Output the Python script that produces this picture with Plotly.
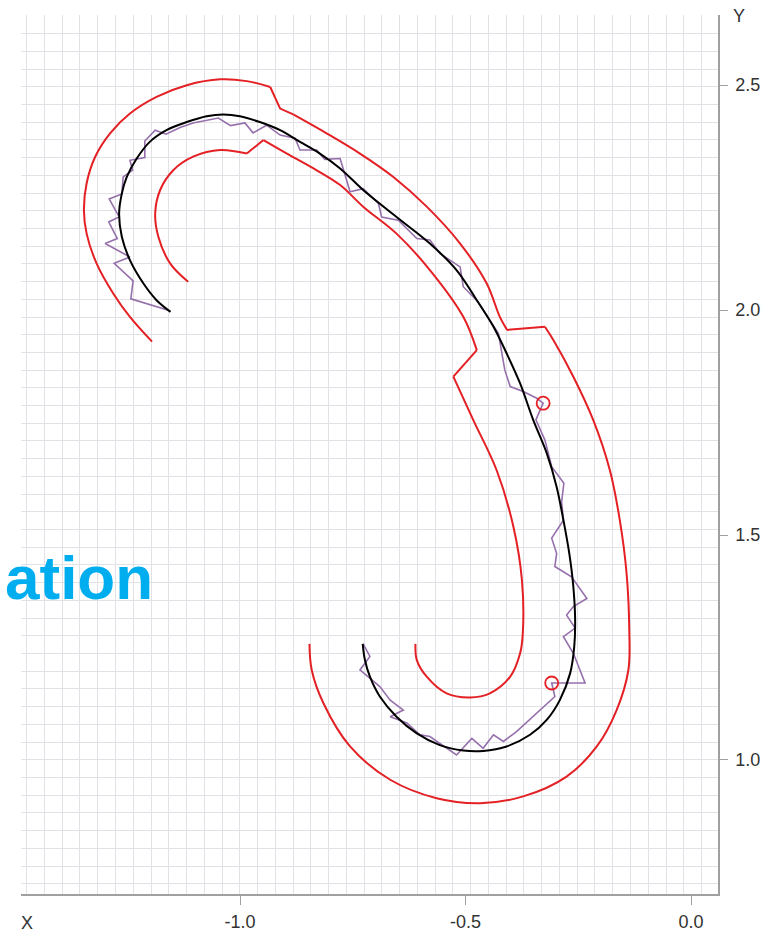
import plotly.graph_objects as go

# ---- curve data (x, y in axis units) ----
centre_x = [-1.154, -1.185, -1.214, -1.244, -1.262, -1.268, -1.262, -1.251, -1.229, -1.200,
            -1.163, -1.118, -1.074, -1.037, -1.000, -0.956, -0.911, -0.867, -0.823, -0.778,
            -0.727, -0.653, -0.579, -0.520, -0.475, -0.438, -0.409, -0.379, -0.350, -0.320,
            -0.298, -0.283, -0.270, -0.261, -0.257, -0.259, -0.268, -0.291, -0.320, -0.357,
            -0.409, -0.461, -0.505, -0.557, -0.608, -0.653, -0.690, -0.712, -0.723, -0.728]
centre_y = [1.996, 2.022, 2.059, 2.111, 2.163, 2.215, 2.259, 2.296, 2.337, 2.374,
            2.400, 2.418, 2.431, 2.435, 2.431, 2.418, 2.400, 2.374, 2.348, 2.315,
            2.267, 2.207, 2.148, 2.089, 2.022, 1.963, 1.904, 1.837, 1.756, 1.682,
            1.607, 1.533, 1.459, 1.385, 1.311, 1.252, 1.193, 1.133, 1.089, 1.056,
            1.030, 1.020, 1.021, 1.033, 1.059, 1.096, 1.141, 1.185, 1.222, 1.258]

# outer offset boundary, in pieces split at its corners
outer_a_x = [-1.195, -1.244, -1.281, -1.318, -1.340, -1.346, -1.340, -1.321, -1.288, -1.244,
             -1.185, -1.118, -1.044, -0.985, -0.933]
outer_a_y = [1.930, 1.985, 2.037, 2.104, 2.170, 2.222, 2.282, 2.341, 2.393, 2.437,
             2.474, 2.500, 2.513, 2.509, 2.496]
outer_b_x = [-0.933, -0.911, -0.882]
outer_b_y = [2.496, 2.448, 2.435]
outer_c_x = [-0.882, -0.808, -0.734, -0.660, -0.586, -0.512, -0.453, -0.424, -0.408]
outer_c_y = [2.435, 2.393, 2.348, 2.296, 2.230, 2.148, 2.059, 1.985, 1.956]
outer_d_x = [-0.408, -0.324]
outer_d_y = [1.956, 1.963]
outer_e_x = [-0.324, -0.305, -0.261, -0.217, -0.180, -0.158, -0.143, -0.137, -0.139, -0.165,
             -0.209, -0.276, -0.372, -0.468, -0.564, -0.667, -0.756, -0.815, -0.841, -0.846]
outer_e_y = [1.963, 1.933, 1.852, 1.756, 1.644, 1.533, 1.415, 1.289, 1.200, 1.111,
             1.030, 0.963, 0.919, 0.904, 0.915, 0.956, 1.030, 1.126, 1.200, 1.258]

# inner offset boundary, in pieces split at its corners
inner_a_x = [-1.115, -1.155, -1.181, -1.188, -1.177, -1.148, -1.104, -1.044, -0.985]
inner_a_y = [2.063, 2.104, 2.163, 2.215, 2.267, 2.311, 2.341, 2.356, 2.348]
inner_b_x = [-0.985, -0.948]
inner_b_y = [2.348, 2.378]
inner_c_x = [-0.948, -0.896, -0.837, -0.778, -0.727, -0.653, -0.579, -0.505, -0.475]
inner_c_y = [2.378, 2.348, 2.315, 2.278, 2.230, 2.170, 2.089, 1.985, 1.911]
inner_d_x = [-0.475, -0.527]
inner_d_y = [1.911, 1.852]
inner_e_x = [-0.527, -0.483, -0.431, -0.394, -0.375, -0.373, -0.379, -0.401, -0.446, -0.490,
             -0.542, -0.586, -0.608, -0.611]
inner_e_y = [1.852, 1.756, 1.644, 1.519, 1.400, 1.282, 1.237, 1.185, 1.148, 1.139,
             1.148, 1.185, 1.222, 1.258]

# sampled (noisy) path
path_x = [-1.157, -1.181, -1.242, -1.237, -1.279, -1.244, -1.299, -1.272, -1.291, -1.268,
          -1.290, -1.262, -1.259, -1.238, -1.244, -1.211, -1.211, -1.188, -1.164, -1.133,
          -1.104, -1.048, -1.021, -0.989, -0.971, -0.941, -0.911, -0.878, -0.867, -0.830,
          -0.812, -0.778, -0.756, -0.727, -0.693, -0.686, -0.649, -0.608, -0.579, -0.557,
          -0.512, -0.505, -0.472, -0.427, -0.420, -0.413, -0.401, -0.372, -0.342, -0.328,
          -0.344, -0.324, -0.309, -0.282, -0.287, -0.283, -0.309, -0.298, -0.302, -0.265,
          -0.231, -0.261, -0.276, -0.257, -0.283, -0.261, -0.235, -0.309, -0.302, -0.339,
          -0.357, -0.387, -0.416, -0.438, -0.461, -0.486, -0.520, -0.542, -0.579, -0.601,
          -0.630, -0.667, -0.638, -0.667, -0.690, -0.734, -0.712, -0.727]
path_y = [1.999, 2.006, 2.025, 2.065, 2.104, 2.118, 2.148, 2.159, 2.196, 2.207,
          2.247, 2.258, 2.296, 2.311, 2.333, 2.339, 2.376, 2.400, 2.391, 2.406,
          2.416, 2.427, 2.410, 2.416, 2.394, 2.411, 2.389, 2.382, 2.356, 2.356,
          2.335, 2.337, 2.263, 2.270, 2.237, 2.207, 2.200, 2.159, 2.156, 2.126,
          2.096, 2.052, 2.018, 1.948, 1.911, 1.867, 1.830, 1.819, 1.804, 1.793,
          1.756, 1.711, 1.652, 1.615, 1.574, 1.533, 1.493, 1.459, 1.430, 1.407,
          1.359, 1.341, 1.322, 1.293, 1.274, 1.237, 1.171, 1.171, 1.141, 1.107,
          1.089, 1.063, 1.041, 1.056, 1.026, 1.048, 1.011, 1.026, 1.052, 1.056,
          1.082, 1.096, 1.111, 1.133, 1.163, 1.200, 1.230, 1.258]

# marked points
mark_x = [-0.328, -0.309]
mark_y = [1.793, 1.171]

x_ticks = [-1.0, -0.5, 0.0]
y_ticks = [1.0, 1.5, 2.0, 2.5]

x_range = [-1.4855, 0.0597]
y_range = [0.702, 2.656]
grid_step = 1 / 25.4

RED = "rgb(228,32,36)"
PURPLE = "rgb(150,112,172)"
AXIS = "rgb(160,160,160)"
GRID = "rgb(226,226,230)"
TEXT = "rgb(51,51,51)"
FONT = "Liberation Sans, Arial, sans-serif"

fig = go.Figure()


def add_line(xs, ys, color, width, shape="linear"):
    fig.add_trace(go.Scatter(x=xs, y=ys, mode="lines",
                             line=dict(color=color, width=width, shape=shape),
                             hoverinfo="skip", showlegend=False))


for xs, ys, shp in [(outer_a_x, outer_a_y, "spline"), (outer_b_x, outer_b_y, "linear"),
                    (outer_c_x, outer_c_y, "spline"), (outer_d_x, outer_d_y, "linear"),
                    (outer_e_x, outer_e_y, "spline"),
                    (inner_a_x, inner_a_y, "spline"), (inner_b_x, inner_b_y, "linear"),
                    (inner_c_x, inner_c_y, "spline"), (inner_d_x, inner_d_y, "linear"),
                    (inner_e_x, inner_e_y, "spline")]:
    add_line(xs, ys, RED, 2, shp)

add_line(path_x, path_y, PURPLE, 1.6)
add_line(centre_x, centre_y, "black", 2, "spline")

fig.add_trace(go.Scatter(x=mark_x, y=mark_y, mode="markers",
                         marker=dict(symbol="circle-open", size=13, color=RED,
                                     line=dict(width=1.8, color=RED)),
                         hoverinfo="skip", showlegend=False))


def axis(rng, ticks, side, grid0, ticklen, standoff):
    return dict(
        range=rng, side=side, automargin=False,
        tickmode="array", tickvals=ticks, ticktext=[f"{v:.1f}" for v in ticks],
        ticks="outside", ticklen=ticklen, tickwidth=1.2, tickcolor=AXIS,
        ticklabelstandoff=standoff,
        showline=True, linecolor=AXIS, linewidth=1.5,
        showgrid=False, zeroline=False,
        tickfont=dict(size=18, color=TEXT),
        minor=dict(tickmode="linear", tick0=grid0, dtick=grid_step, ticks="",
                   showgrid=True, gridcolor=GRID, gridwidth=1),
    )


fig.update_layout(
    width=777, height=934,
    margin=dict(l=21, r=59, t=15, b=40),
    paper_bgcolor="white", plot_bgcolor="white",
    font=dict(family=FONT, size=18, color=TEXT),
    xaxis=axis(x_range, x_ticks, "bottom", -1.0004, 9, 2),
    yaxis=axis(y_range, y_ticks, "right", 1.0004, 8, 4),
    annotations=[
        dict(text="Y", xref="paper", yref="paper", x=1.030, y=0.999,
             xanchor="center", yanchor="middle", showarrow=False,
             font=dict(size=18, color=TEXT)),
        dict(text="X", xref="paper", yref="paper", x=0.0093, y=-0.033,
             xanchor="center", yanchor="middle", showarrow=False,
             font=dict(size=18, color=TEXT)),
        dict(text="<b>ation</b>", xref="paper", yref="paper", x=-0.026, y=0.3595,
             xanchor="left", yanchor="middle", showarrow=False,
             font=dict(size=62, color="rgb(0,174,239)", family=FONT)),
    ],
)

fig.write_html("out.html")
